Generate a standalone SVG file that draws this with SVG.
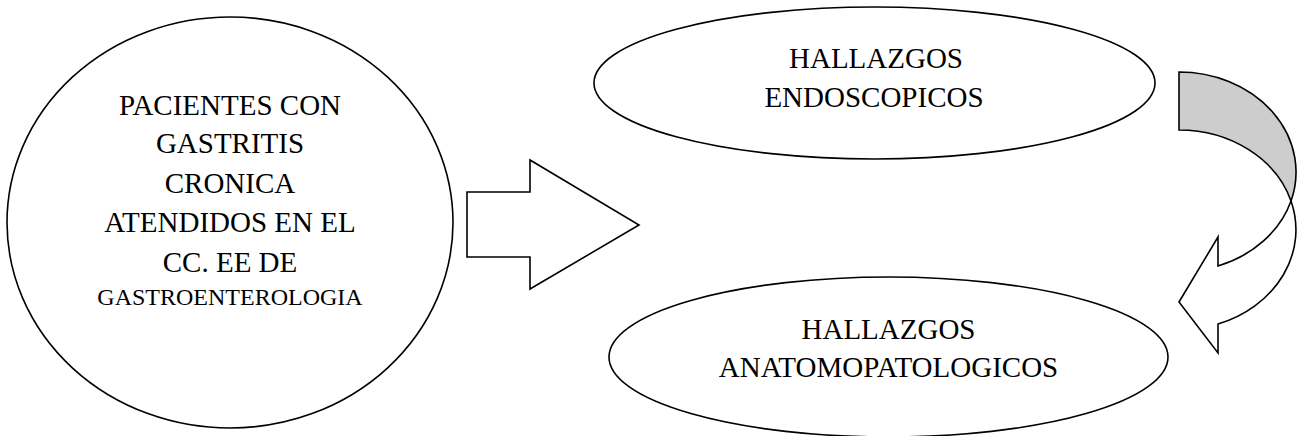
<svg xmlns="http://www.w3.org/2000/svg" width="1306" height="436" viewBox="0 0 1306 436">
<style>
.shape{fill:#ffffff;stroke:#000000;stroke-width:1.6;stroke-linejoin:miter}
.back{fill:#cdcdcd;stroke:#000000;stroke-width:1.6}
.t{font-family:"Liberation Serif","Times New Roman",serif;font-size:29px;fill:#000000;text-anchor:middle}
.s{font-size:24px}
</style>
<rect width="1306" height="436" fill="#ffffff"/>
<g id="node-pacientes">
<ellipse class="shape" cx="230" cy="222.5" rx="223" ry="205.5"/>
<text class="t" x="230" y="115">PACIENTES CON</text>
<text class="t" x="230" y="153">GASTRITIS</text>
<text class="t" x="230" y="193">CRONICA</text>
<text class="t" x="230" y="232">ATENDIDOS EN EL</text>
<text class="t" x="230" y="272">CC. EE DE</text>
<text class="t s" x="230" y="305">GASTROENTEROLOGIA</text>
</g>
<g id="node-endoscopicos">
<ellipse class="shape" cx="874.5" cy="83" rx="280.5" ry="76"/>
<text class="t" x="876" y="68">HALLAZGOS</text>
<text class="t" x="874" y="107">ENDOSCOPICOS</text>
</g>
<g id="node-anatomopatologicos">
<ellipse class="shape" cx="888.5" cy="357" rx="279.5" ry="80"/>
<text class="t" x="888.5" y="339">HALLAZGOS</text>
<text class="t" x="888.5" y="377">ANATOMOPATOLOGICOS</text>
</g>
<g id="connectors">
<polygon class="shape" points="467,192 530,192 530,160 639,225 530,289 530,257 467,257"/>
<path class="back" d="M1179,72 A117,100 0 0 1 1291,201 A117,100 0 0 0 1179,130 Z"/>
<path class="shape" d="M1291,201 A117,100 0 0 1 1218,324 L1218,353 L1179,302 L1218,237 L1218,266 A117,100 0 0 0 1291,201 Z"/>
</g>
</svg>
